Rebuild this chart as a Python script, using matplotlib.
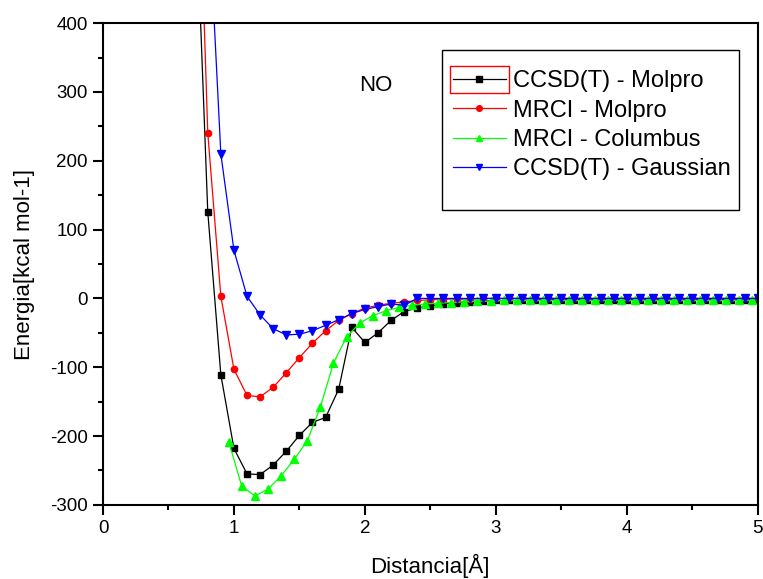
# NO potential energy curves - comparison of methods
import numpy as np
import matplotlib
matplotlib.use('Agg')
import matplotlib.pyplot as plt
from matplotlib.patches import Rectangle

plt.rcParams['font.family'] = ['Liberation Sans', 'DejaVu Sans']
plt.rcParams['axes.unicode_minus'] = False

# distances (Angstrom) and energies (kcal/mol)
x_ccsd_molpro = [0.7, 0.8, 0.9, 1.0, 1.1, 1.2, 1.3, 1.4, 1.5, 1.6, 1.7, 1.8, 1.9, 2.0, 2.1,
                 2.2, 2.3, 2.4, 2.5, 2.6, 2.7, 2.8, 2.9, 3.0, 3.1, 3.2, 3.3, 3.4, 3.5, 3.6,
                 3.7, 3.8, 3.9, 4.0, 4.1, 4.2, 4.3, 4.4, 4.5, 4.6, 4.7, 4.8, 4.9, 5.0]
e_ccsd_molpro = [630, 126, -111, -218, -255, -256, -242, -222, -199, -180, -173, -132, -42, -64, -50,
                 -32, -19, -14, -11, -8, -6, -5, -4, -3, -3, -3, -2, -2, -2, -2,
                 -2, -2, -2, -2, -2, -2, -2, -2, -2, -2, -2, -2, -2, -2]

x_mrci_molpro = x_ccsd_molpro
e_mrci_molpro = [830, 241, 3, -103, -141, -143, -129, -108, -86, -65, -47, -32, -22, -14, -10,
                 -7, -5, -3, -2, -1, -1, -1, 0, 0, 0, 0, 0, 0, 0, 0,
                 0, 0, 0, 0, 0, 0, 0, 0, 0, 0, 0, 0, 0, 0]

x_mrci_columbus = [0.96, 1.06, 1.16, 1.26, 1.36, 1.46, 1.56, 1.66, 1.76, 1.86, 1.96, 2.06, 2.16, 2.26,
                   2.36, 2.46, 2.56, 2.66, 2.76, 2.86, 2.96, 3.06, 3.16, 3.26, 3.36, 3.46, 3.56,
                   3.66, 3.76, 3.86, 3.96, 4.06, 4.16, 4.26, 4.36, 4.46, 4.56, 4.66, 4.76, 4.86, 4.96]
e_mrci_columbus = [-208, -273, -287, -277, -258, -234, -207, -158, -94, -56, -36, -25, -18, -13,
                   -10, -8, -7, -6, -5, -4, -4, -3, -3, -3, -3, -3, -3,
                   -3, -3, -3, -3, -3, -3, -3, -3, -3, -3, -3, -3, -3, -3]

x_ccsd_gaussian = x_ccsd_molpro[1:]
e_ccsd_gaussian = [590, 210, 70, 3, -24, -44, -53, -52, -47, -39, -31, -22, -16, -12,
                   -8, -10, 0, 0, 0, 0, 0, 0, 0, 0, 0, 0, 0, 0, 0,
                   0, 0, 0, 0, 0, 0, 0, 0, 0, 0, 0, 0, 0, 0]

labels = ["CCSD(T) - Molpro", "MRCI - Molpro", "MRCI - Columbus", "CCSD(T) - Gaussian"]

fig = plt.figure(figsize=(7.63, 5.79), dpi=100)
ax = fig.add_axes([0.135, 0.128, 0.858, 0.832])

ax.plot(x_ccsd_molpro, e_ccsd_molpro, color='black', lw=0.9, marker='s', ms=4.5, label=labels[0])
ax.plot(x_mrci_molpro, e_mrci_molpro, color='red', lw=0.9, marker='o', ms=4.5, label=labels[1])
ax.plot(x_mrci_columbus, e_mrci_columbus, color='#00ff00', lw=0.9, marker='^', ms=5.5, label=labels[2])
ax.plot(x_ccsd_gaussian, e_ccsd_gaussian, color='blue', lw=0.9, marker='v', ms=5.5, label=labels[3])

ax.set_xlim(0, 5)
ax.set_ylim(-300, 400)
ax.set_xticks([0, 1, 2, 3, 4, 5])
ax.set_xticks([0.5, 1.5, 2.5, 3.5, 4.5], minor=True)
ax.set_yticks(range(-300, 401, 100))
ax.set_yticks(range(-250, 400, 100), minor=True)
ax.tick_params(which='major', direction='out', length=7, width=1.5, labelsize=13.5, pad=4)
ax.tick_params(which='minor', direction='out', length=3.6, width=1.5)
for s in ax.spines.values():
    s.set_linewidth(1.5)

ax.set_xlabel("Distancia[Å]", fontsize=16, labelpad=12)
ax.set_ylabel("Energia[kcal mol-1]", fontsize=16, labelpad=11)
ax.text(2.08, 310, "NO", fontsize=16, ha='center', va='center')

# legend without its own frame; the box (with extra room at the bottom) is drawn separately
ax.add_patch(Rectangle((0.5176, 0.612), 0.4534, 0.332, transform=ax.transAxes,
                       facecolor='white', edgecolor='black', lw=1.0, zorder=4))
leg = ax.legend(loc='upper left', bbox_to_anchor=(0.534, 0.902), borderaxespad=0,
                fontsize=17, frameon=False, handlelength=2.25, handletextpad=0.3,
                labelspacing=0.31, borderpad=0, markerscale=0.9)
leg.set_zorder(5)

# red selection box around the first legend handle
fig.canvas.draw()
hb = leg.get_lines()[0].get_window_extent(fig.canvas.get_renderer())
yc = (hb.y0 + hb.y1) / 2
W, H = fig.get_size_inches() * fig.dpi
fig.patches.append(Rectangle((hb.x0 / W, (yc - 13.5) / H), hb.width / W, 27 / H,
                             transform=fig.transFigure, fill=False, edgecolor='red', lw=1))

fig.savefig("out.png", dpi=100)
